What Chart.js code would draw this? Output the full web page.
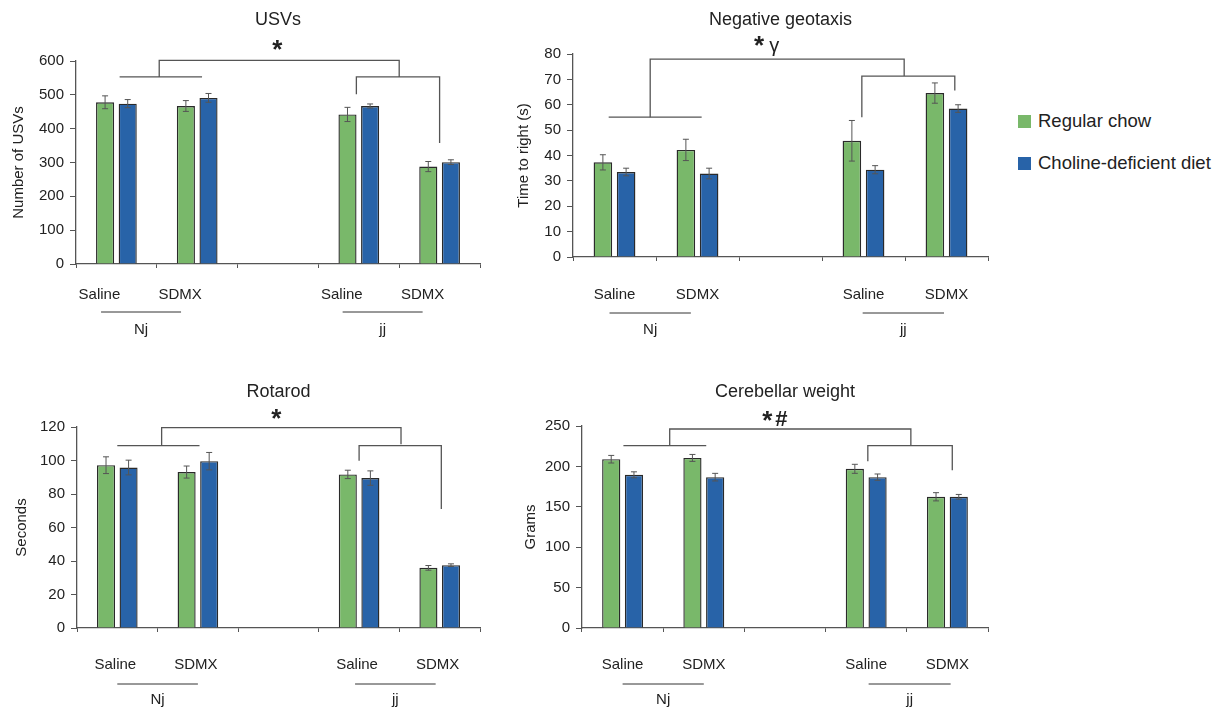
<!DOCTYPE html>
<html>
<head>
<meta charset="utf-8">
<script src="https://cdn.jsdelivr.net/npm/chart.js@4"></script>
<style>
  body { margin: 0; background: #fff; width: 1216px; height: 708px; overflow: hidden; position: relative; font-family: "Liberation Sans", Arial, sans-serif; }
  .panel { position: absolute; }
  .legend { position: absolute; left: 1018px; top: 108px; color: #222; font-size: 18.5px; }
  .legend div { height: 42px; line-height: 26px; white-space: nowrap; }
  .legend span { display: inline-block; width: 13px; height: 13px; margin-right: 7px; vertical-align: -1px; }
</style>
</head>
<body>
<canvas id="usv" class="panel" style="left:0px;top:0px"></canvas>
<canvas id="geo" class="panel" style="left:500px;top:0px"></canvas>
<canvas id="rota" class="panel" style="left:0px;top:370px"></canvas>
<canvas id="cereb" class="panel" style="left:500px;top:370px"></canvas>
<div class="legend">
  <div><span style="background:#79b86a"></span>Regular chow</div>
  <div><span style="background:#2863a8"></span>Choline-deficient diet</div>
</div>
<script>
// categories (slot 2 is the gap between genotypes)
var categories = ['Saline', 'SDMX', '', 'Saline', 'SDMX'];
var groups = ['Nj', 'jj'];
var seriesNames = ['Regular chow', 'Choline-deficient diet'];

// USVs
var usvChow = [478, 467, null, 442, 288];
var usvChowErr = [19, 16, 0, 21, 15];
var usvCholine = [474, 491, null, 467, 301];
var usvCholineErr = [12, 13, 0, 6, 7];

// Negative geotaxis
var geoChow = [37.3, 42.2, null, 45.8, 64.6];
var geoChowErr = [3.0, 4.2, 0, 8.0, 4.0];
var geoCholine = [33.5, 32.9, null, 34.4, 58.5];
var geoCholineErr = [1.5, 2.1, 0, 1.6, 1.5];

// Rotarod
var rotaChow = [97.2, 93.1, null, 91.7, 35.9];
var rotaChowErr = [5.0, 3.6, 0, 2.5, 1.4];
var rotaCholine = [95.8, 99.6, null, 89.5, 37.5];
var rotaCholineErr = [4.4, 5.2, 0, 4.3, 0.8];

// Cerebellar weight
var cerebChow = [208.9, 210.5, null, 197, 162.4];
var cerebChowErr = [4.7, 4.3, 0, 5.6, 5.1];
var cerebCholine = [189.6, 186.7, null, 186.7, 162.4];
var cerebCholineErr = [3.7, 4.7, 0, 3.9, 2.9];

var green = '#79b86a';
var blue = '#2863a8';
var lineGray = '#555';
var font = '"Liberation Sans", Arial, sans-serif';

// error bars + brackets + titles + group labels
var extrasPlugin = {
    id: 'extras',
    afterDatasetsDraw: function (chart, args, o) {
        var ctx = chart.ctx;
        var xs = chart.scales.x, ys = chart.scales.y;
        var ca = chart.chartArea;
        ctx.save();
        // error bars
        ctx.strokeStyle = lineGray;
        ctx.lineWidth = 1;
        chart.data.datasets.forEach(function (ds, i) {
            var meta = chart.getDatasetMeta(i);
            meta.data.forEach(function (bar, j) {
                var v = ds.data[j];
                if (v == null) return;
                var e = ds.err[j];
                var y1 = ys.getPixelForValue(v - e), y2 = ys.getPixelForValue(v + e);
                ctx.beginPath();
                ctx.moveTo(bar.x, y1); ctx.lineTo(bar.x, y2);
                ctx.moveTo(bar.x - 3, y1); ctx.lineTo(bar.x + 3, y1);
                ctx.moveTo(bar.x - 3, y2); ctx.lineTo(bar.x + 3, y2);
                ctx.stroke();
            });
        });
        // brackets
        ctx.lineWidth = 1.3;
        o.brackets.forEach(function (pl) {
            ctx.beginPath();
            pl.forEach(function (p, k) {
                var px = xs.getPixelForValue(p[0]), py = ys.getPixelForValue(p[1]);
                if (k === 0) ctx.moveTo(px, py); else ctx.lineTo(px, py);
            });
            ctx.stroke();
        });
        // significance marks above the top line
        var top = o.brackets[1];
        var sx = (xs.getPixelForValue(top[1][0]) + xs.getPixelForValue(top[2][0])) / 2;
        var sy = ys.getPixelForValue(top[1][1]);
        ctx.fillStyle = '#222';
        ctx.textAlign = 'center';
        ctx.textBaseline = 'alphabetic';
        o.marks.forEach(function (m) {
            ctx.font = m.f + ' ' + font;
            ctx.fillText(m.t, sx + m.dx, sy + m.dy);
        });
        // title
        ctx.font = '18px ' + font;
        ctx.textBaseline = 'middle';
        ctx.fillText(o.title, (ca.left + ca.right) / 2, o.titleY);
        // group underline + labels
        ctx.font = '15px ' + font;
        ctx.lineWidth = 1;
        o.groupSpans.forEach(function (g, k) {
            var a = xs.getPixelForValue(g[0]), b = xs.getPixelForValue(g[1]);
            var ly = ca.bottom + o.lineDy;
            ctx.strokeStyle = '#333';
            ctx.beginPath(); ctx.moveTo(a, ly); ctx.lineTo(b, ly); ctx.stroke();
            ctx.fillText(groups[k], (a + b) / 2, ca.bottom + o.groupDy);
        });
        ctx.restore();
    }
};

function makePanel(id, cfg) {
    var cv = document.getElementById(id);
    cv.width = cfg.w; cv.height = cfg.h;
    cv.style.width = cfg.w + 'px'; cv.style.height = cfg.h + 'px';
    return new Chart(cv, {
        type: 'bar',
        data: {
            labels: categories,
            datasets: [
                { label: seriesNames[0], data: cfg.chow, err: cfg.chowErr, backgroundColor: green, borderColor: '#2a2a2a', borderWidth: 1.4 },
                { label: seriesNames[1], data: cfg.choline, err: cfg.cholineErr, backgroundColor: blue, borderColor: '#2a2a2a', borderWidth: 1.4 }
            ]
        },
        options: {
            responsive: false,
            animation: false,
            events: [],
            categoryPercentage: 0.56,
            barPercentage: 0.8,
            layout: { padding: { top: cfg.top, right: cfg.right, left: 0, bottom: 0 } },
            plugins: {
                legend: { display: false },
                tooltip: { enabled: false },
                extras: cfg.extras
            },
            scales: {
                x: {
                    afterFit: function (s) { s.height = cfg.xh; },
                    border: { color: lineGray, width: 1.3 },
                    grid: { display: true, offset: true, drawOnChartArea: false, tickLength: 4, color: lineGray },
                    ticks: { color: '#222', font: { family: font, size: 15 }, padding: cfg.labelPad, labelOffset: cfg.labelOffset, maxRotation: 0, autoSkip: false }
                },
                y: {
                    min: 0, max: cfg.max,
                    afterFit: function (s) { s.width = cfg.yw; },
                    border: { color: lineGray, width: 1.3 },
                    grid: { drawOnChartArea: false, tickLength: 6, color: lineGray },
                    ticks: { stepSize: cfg.step, color: '#222', padding: 6, font: { family: font, size: 15 } },
                    title: { display: true, text: cfg.yTitle, color: '#222', font: { family: font, size: 15 }, padding: { top: cfg.yTitlePad, bottom: 0 } }
                }
            }
        },
        plugins: [extrasPlugin]
    });
}

makePanel('usv', {
    w: 490, h: 345, top: 61, right: 10, yw: 76, xh: 81, max: 600, step: 100,
    chow: usvChow, chowErr: usvChowErr, choline: usvCholine, cholineErr: usvCholineErr,
    yTitle: 'Number of USVs', yTitlePad: 10, labelPad: 18, labelOffset: -17,
    extras: {
        title: 'USVs', titleY: 20, lineDy: 48, groupDy: 66,
        marks: [{ t: '*', dx: -2, dy: -2, f: 'bold 26px' }],
        groupSpans: [[-0.19, 0.80], [2.80, 3.79]],
        brackets: [
            [[0.04, 553], [1.06, 553]],
            [[0.53, 553], [0.53, 602], [3.5, 602], [3.5, 553]],
            [[2.97, 502], [2.97, 553], [4.0, 553], [4.0, 358]]
        ]
    }
});

makePanel('geo', {
    w: 500, h: 345, top: 54, right: 12, yw: 73, xh: 88, max: 80, step: 10,
    chow: geoChow, chowErr: geoChowErr, choline: geoCholine, cholineErr: geoCholineErr,
    yTitle: 'Time to right (s)', yTitlePad: 15, labelPad: 25, labelOffset: 0,
    extras: {
        title: 'Negative geotaxis', titleY: 20, lineDy: 56, groupDy: 73,
        marks: [{ t: '*', dx: -18, dy: -5, f: 'bold 26px' }, { t: '\u03b3', dx: -3, dy: -7, f: '20px' }],
        groupSpans: [[-0.06, 0.92], [2.99, 3.97]],
        brackets: [
            [[-0.07, 55.1], [1.05, 55.1]],
            [[0.43, 55.1], [0.43, 78], [3.49, 78], [3.49, 71.3]],
            [[2.98, 55.1], [2.98, 71.3], [4.1, 71.3], [4.1, 65.6]]
        ]
    }
});

makePanel('rota', {
    w: 490, h: 338, top: 57, right: 10, yw: 77, xh: 80, max: 120, step: 20,
    chow: rotaChow, chowErr: rotaChowErr, choline: rotaCholine, cholineErr: rotaCholineErr,
    yTitle: 'Seconds', yTitlePad: 13, labelPad: 24, labelOffset: -2,
    extras: {
        title: 'Rotarod', titleY: 22, lineDy: 56, groupDy: 72,
        marks: [{ t: '*', dx: -5, dy: -0.5, f: 'bold 26px' }],
        groupSpans: [[0.0, 1.0], [2.95, 3.95]],
        brackets: [
            [[0.0, 108.9], [1.02, 108.9]],
            [[0.55, 108.9], [0.55, 119.6], [3.52, 119.6], [3.52, 109.7]],
            [[3.0, 99.8], [3.0, 108.9], [4.02, 108.9], [4.02, 71.0]]
        ]
    }
});

makePanel('cereb', {
    w: 500, h: 338, top: 56, right: 12, yw: 82, xh: 80, max: 250, step: 50,
    chow: cerebChow, chowErr: cerebChowErr, choline: cerebCholine, cholineErr: cerebCholineErr,
    yTitle: 'Grams', yTitlePad: 22, labelPad: 24, labelOffset: 0,
    extras: {
        title: 'Cerebellar weight', titleY: 22, lineDy: 56, groupDy: 72,
        marks: [{ t: '*', dx: -23, dy: 0.5, f: 'bold 26px' }, { t: '#', dx: -9, dy: -3, f: 'bold 22px' }],
        groupSpans: [[0.0, 1.0], [3.03, 4.04]],
        brackets: [
            [[0.01, 225.7], [1.03, 225.7]],
            [[0.58, 225.7], [0.58, 246.3], [3.55, 246.3], [3.55, 225.7]],
            [[3.02, 206.4], [3.02, 225.7], [4.06, 225.7], [4.06, 195.3]]
        ]
    }
});
</script>
</body>
</html>
